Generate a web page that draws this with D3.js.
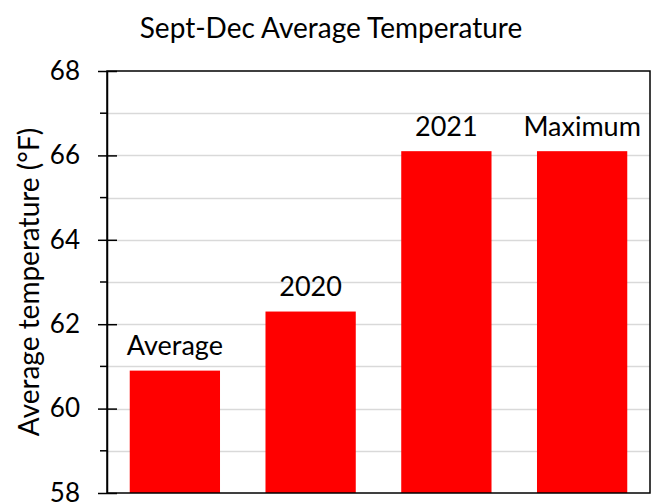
<!DOCTYPE html>
<html>
<head>
<meta charset="utf-8">
<script src="https://cdn.jsdelivr.net/npm/d3@7"></script>
<style>
  html, body { margin: 0; padding: 0; background: #fff; }
  svg { display: block; }
  text { font-family: Lato, "Open Sans", sans-serif; fill: #000; }
</style>
</head>
<body>
<svg id="chart" width="660" height="502"></svg>
<script>
const categories = ["Average", "2020", "2021", "Maximum"];
const values = [60.9, 62.3, 66.1, 66.1];
const yMajorTicks = [58, 60, 62, 64, 66, 68];
const yMinorTicks = [59, 61, 63, 65, 67];
const yGridValues = [59, 60, 61, 62, 63, 64, 65, 66, 67];
const chartTitle = "Sept-Dec Average Temperature";
const yAxisTitle = "Average temperature (°F)";

const W = 660, H = 502;
const plot = { left: 107, right: 650, top: 71, bottom: 493 };

const svg = d3.select("#chart");

const x = d3.scaleBand()
  .domain(categories)
  .range([plot.left, plot.right])
  .paddingInner(0.335)
  .paddingOuter(0.1675);

const y = d3.scaleLinear()
  .domain([58, 68])
  .range([plot.bottom, plot.top]);

// gridlines
svg.append("g")
  .selectAll("line")
  .data(yGridValues)
  .join("line")
  .attr("x1", plot.left)
  .attr("x2", plot.right)
  .attr("y1", d => Math.round(y(d)) + 0.5)
  .attr("y2", d => Math.round(y(d)) + 0.5)
  .attr("stroke", "#d9d9d9")
  .attr("stroke-width", 1.3);

// bars
svg.append("g")
  .selectAll("rect")
  .data(categories.map((c, i) => ({ c, v: values[i] })))
  .join("rect")
  .attr("x", d => x(d.c))
  .attr("width", x.bandwidth())
  .attr("y", d => y(d.v))
  .attr("height", d => y(58) - y(d.v))
  .attr("fill", "#ff0000");

// bar labels
svg.append("g")
  .selectAll("text")
  .data(categories.map((c, i) => ({ c, v: values[i] })))
  .join("text")
  .attr("x", d => x(d.c) + x.bandwidth() / 2)
  .attr("y", d => y(d.v) - 15.5)
  .attr("text-anchor", "middle")
  .style("font-size", "27px")
  .text(d => d.c);

// frame
svg.append("rect")
  .attr("x", plot.left)
  .attr("y", plot.top)
  .attr("width", plot.right - plot.left)
  .attr("height", plot.bottom - plot.top)
  .attr("fill", "none")
  .attr("stroke", "#000")
  .attr("stroke-width", 1.5);

// y axis with major ticks crossing
const yAxis = d3.axisLeft(y)
  .tickValues(yMajorTicks)
  .tickSize(0)
  .tickPadding(27)
  .tickFormat(d3.format("d"));

const gy = svg.append("g")
  .attr("transform", `translate(${plot.left},0)`)
  .call(yAxis);
gy.select(".domain").attr("stroke", "#000").attr("stroke-width", 1.5);
gy.selectAll(".tick text")
  .style("font-size", "26px")
  .style("font-family", "Lato, 'Open Sans', sans-serif")
  .attr("fill", "#000");

gy.selectAll(".tick")
  .append("line")
  .attr("x1", -9)
  .attr("x2", 10)
  .attr("stroke", "#000")
  .attr("stroke-width", 1.5);

svg.append("g")
  .selectAll("line")
  .data(yMinorTicks)
  .join("line")
  .attr("x1", plot.left - 7)
  .attr("x2", plot.left)
  .attr("y1", d => y(d))
  .attr("y2", d => y(d))
  .attr("stroke", "#000")
  .attr("stroke-width", 1.5);

// title
svg.append("text")
  .attr("x", 331)
  .attr("y", 38)
  .attr("text-anchor", "middle")
  .style("font-size", "28px")
  .text(chartTitle);

// y axis title
svg.append("text")
  .attr("transform", `translate(39,${(plot.top + plot.bottom) / 2}) rotate(-90)`)
  .attr("text-anchor", "middle")
  .style("font-size", "28px")
  .text(yAxisTitle);
</script>
</body>
</html>
